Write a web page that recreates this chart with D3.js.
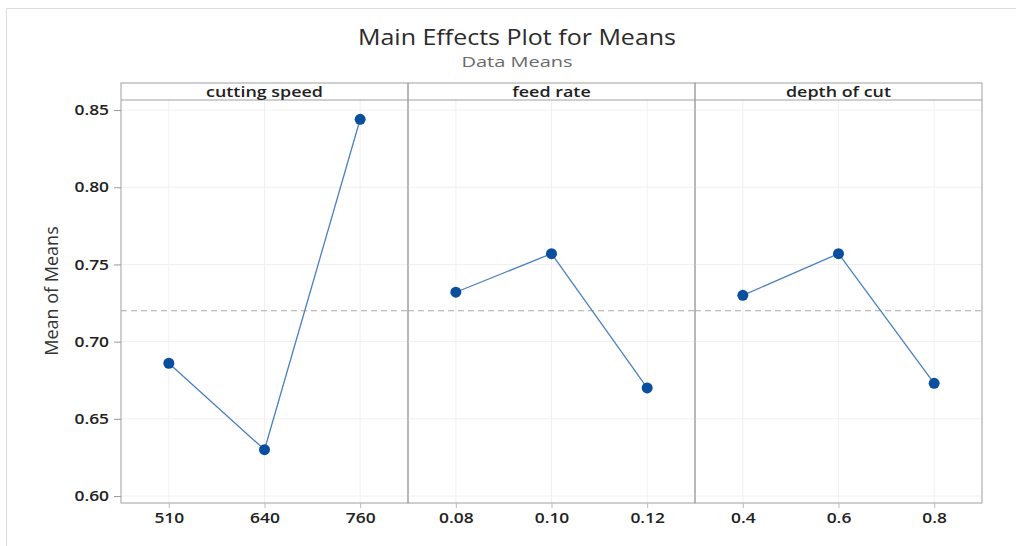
<!DOCTYPE html>
<html>
<head>
<meta charset="utf-8">
<script src="https://cdn.jsdelivr.net/npm/d3@7"></script>
<style>
  body { margin: 0; background: #fff; }
  text { font-family: "Open Sans", "Noto Sans", sans-serif; }
</style>
</head>
<body>
<svg id="chart" width="1016" height="546"></svg>
<script>
const factors = ['cutting speed', 'feed rate', 'depth of cut']
const levelLabels = [
  ['510', '640', '760'],
  ['0.08', '0.10', '0.12'],
  ['0.4', '0.6', '0.8']
]
const cuttingSpeedMeans = [0.686, 0.630, 0.844]
const feedRateMeans = [0.732, 0.757, 0.670]
const depthOfCutMeans = [0.730, 0.757, 0.673]
const yTicks = [0.60, 0.65, 0.70, 0.75, 0.80, 0.85]

const seriesMeans = [cuttingSpeedMeans, feedRateMeans, depthOfCutMeans]
const grandMean = d3.mean(cuttingSpeedMeans)

// the source picture is a bit wider than tall, so text is stretched sideways
const stretch = 1.2

const svg = d3.select('#chart')

function wideText(parent, x, y, size, s) {
  return parent.append('text')
    .attr('transform', `translate(${x},${y}) scale(${s},1)`)
    .attr('text-anchor', 'middle')
    .attr('font-size', size)
}

// outer frame
svg.append('path')
  .attr('d', 'M6.5,546 V8.5 H1016')
  .attr('fill', 'none')
  .attr('stroke', '#dcdcdc')

wideText(svg, 517, 45, 21, 1.19)
  .attr('fill', '#2b2b2b')
  .attr('font-weight', 500)
  .text('Main Effects Plot for Means')

wideText(svg, 517, 67, 14.5, 1.38)
  .attr('fill', '#6a6a6a')
  .text('Data Means')

const mLeft = 121, mRight = 982, mTop = 83, stripH = 17, mBottom = 503
const panelW = (mRight - mLeft) / factors.length

const y = d3.scaleLinear()
  .domain([0.5955, 0.8565])
  .range([mBottom, mTop + stripH])

// y axis
svg.append('g')
  .attr('transform', `translate(${mLeft},0)`)
  .call(d3.axisLeft(y).tickValues(yTicks).tickFormat(d3.format('.2f')).tickSize(7).tickSizeOuter(0))
  .call(g => g.select('.domain').remove())
  .call(g => g.selectAll('line').attr('stroke', '#999'))
  .call(g => g.selectAll('text')
    .attr('font-size', 14.5).attr('font-weight', 600).attr('fill', '#222')
    .attr('x', -12 / stretch)
    .attr('transform', `scale(${stretch},1)`))

svg.append('text')
  .attr('transform', 'translate(58,291) rotate(-90)')
  .attr('text-anchor', 'middle')
  .attr('font-size', 18)
  .attr('fill', '#333')
  .text('Mean of Means')

const line = d3.line()

factors.forEach((name, i) => {
  const x0 = mLeft + i * panelW
  const g = svg.append('g').attr('transform', `translate(${x0},0)`)
  const x = d3.scalePoint()
    .domain(levelLabels[i])
    .range([0, panelW])
    .padding(0.5)

  // gridlines
  g.selectAll('.hgrid').data(yTicks).join('line')
    .attr('x1', 0).attr('x2', panelW)
    .attr('y1', d => y(d)).attr('y2', d => y(d))
    .attr('stroke', '#f0f0f0')
  g.selectAll('.vgrid').data(levelLabels[i]).join('line')
    .attr('x1', d => x(d)).attr('x2', d => x(d))
    .attr('y1', mTop + stripH).attr('y2', mBottom)
    .attr('stroke', '#f0f0f0')

  // reference line
  g.append('line')
    .attr('x1', 0).attr('x2', panelW)
    .attr('y1', y(grandMean)).attr('y2', y(grandMean))
    .attr('stroke', '#aaa')
    .attr('stroke-dasharray', '6,4')

  // panel box and strip
  g.append('rect')
    .attr('x', 0).attr('y', mTop)
    .attr('width', panelW).attr('height', mBottom - mTop)
    .attr('fill', 'none').attr('stroke', '#a0a0a0')
  g.append('line')
    .attr('x1', 0).attr('x2', panelW)
    .attr('y1', mTop + stripH).attr('y2', mTop + stripH)
    .attr('stroke', '#a0a0a0')
  wideText(g, panelW / 2, mTop + 14, 14, 1.28)
    .attr('font-weight', 600).attr('fill', '#222')
    .text(name)

  // x axis
  g.append('g')
    .attr('transform', `translate(0,${mBottom})`)
    .call(d3.axisBottom(x).tickSize(5).tickSizeOuter(0))
    .call(a => a.select('.domain').remove())
    .call(a => a.selectAll('line').attr('stroke', '#bbb'))
    .call(a => a.selectAll('text')
      .attr('font-size', 14.5).attr('font-weight', 600).attr('fill', '#222').attr('y', 10)
      .attr('transform', `scale(${stretch},1)`))

  const pts = levelLabels[i].map((lv, j) => [x(lv), y(seriesMeans[i][j])])

  g.append('path')
    .attr('d', line(pts))
    .attr('fill', 'none')
    .attr('stroke', '#4a80c0')
    .attr('stroke-width', 1.3)

  g.selectAll('circle').data(pts).join('circle')
    .attr('cx', d => d[0]).attr('cy', d => d[1])
    .attr('r', 5.5)
    .attr('fill', '#0a4f9e')
})
</script>
</body>
</html>
